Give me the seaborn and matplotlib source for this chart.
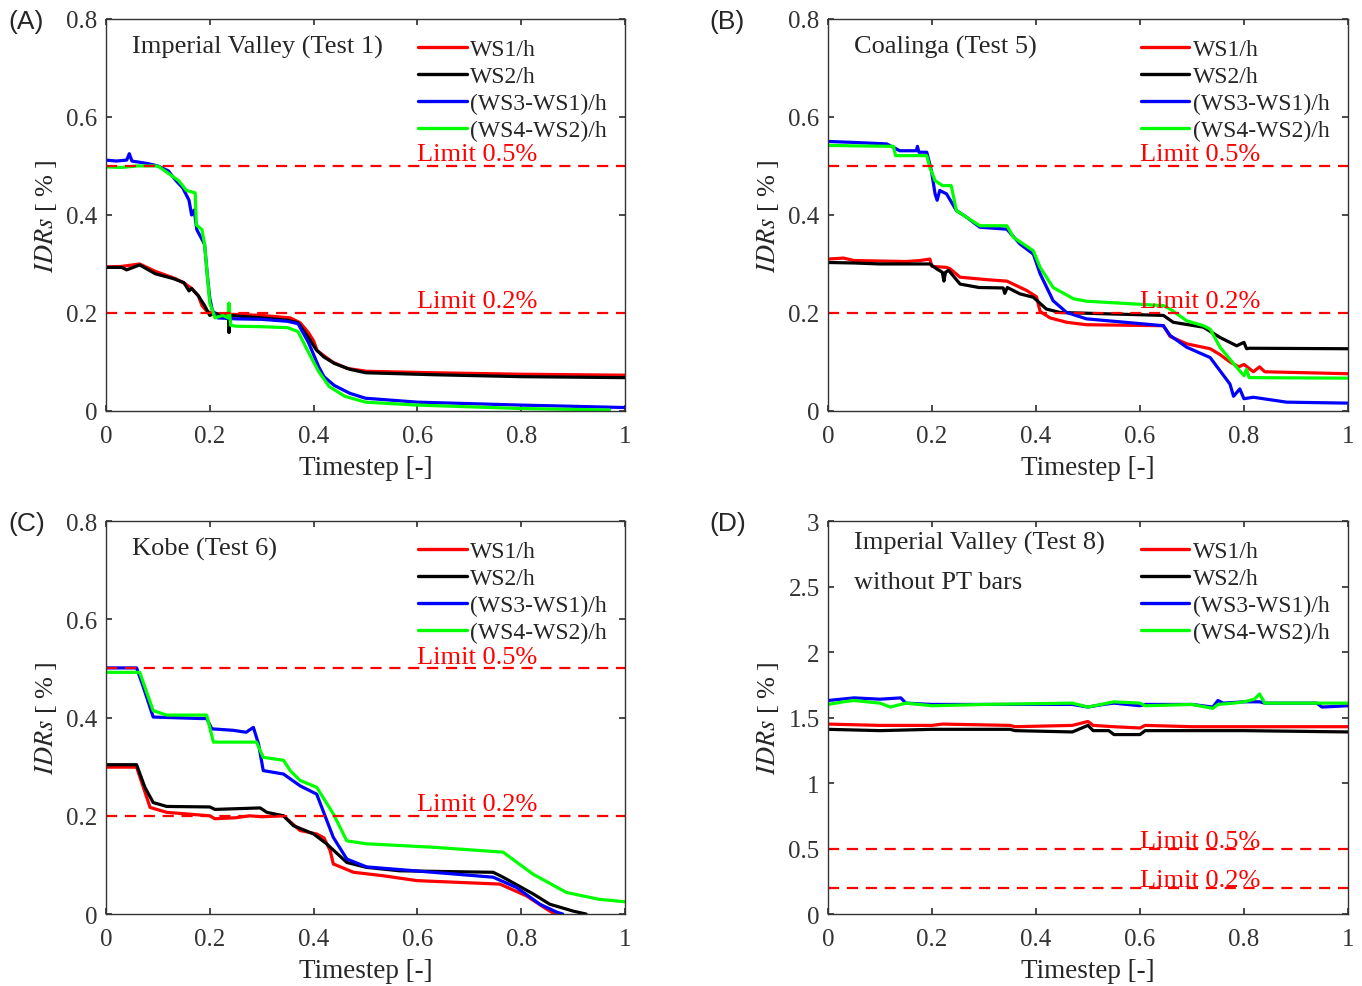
import numpy as np
import pandas as pd
import matplotlib
matplotlib.use("Agg")
import matplotlib.pyplot as plt
from matplotlib.ticker import FuncFormatter, MultipleLocator
import seaborn as sns

# ---------------- Datos ----------------
SERIES = ["WS1/h", "WS2/h", "(WS3-WS1)/h", "(WS4-WS2)/h"]
COLORES = ["#ff0000", "#000000", "#0000ff", "#00ff00"]
LIMITES = [0.5, 0.2]
LIMITES_TXT = ["Limit 0.5%", "Limit 0.2%"]

# (A) Imperial Valley (Test 1)
A_T_WS1 = [0, 0.03, 0.065, 0.095, 0.134, 0.152, 0.165, 0.178, 0.185, 0.195, 0.21, 0.25, 0.3, 0.355, 0.374, 0.39, 0.4,
           0.407, 0.426, 0.438, 0.464, 0.502, 0.63, 0.8, 1.0]
A_WS1 = [0.294, 0.295, 0.30, 0.285, 0.27, 0.26, 0.25, 0.235, 0.215, 0.203, 0.198, 0.197, 0.195, 0.19, 0.18, 0.16, 0.143,
         0.123, 0.108, 0.099, 0.087, 0.081, 0.078, 0.075, 0.073]
A_T_WS2 = [0, 0.03, 0.04, 0.065, 0.095, 0.13, 0.15, 0.16, 0.165, 0.178, 0.19, 0.2, 0.21, 0.236, 0.237, 0.24, 0.25, 0.3,
           0.35, 0.37, 0.39, 0.405, 0.42, 0.44, 0.47, 0.5, 0.63, 0.8, 1.0]
A_WS2 = [0.293, 0.293, 0.288, 0.298, 0.28, 0.27, 0.262, 0.245, 0.25, 0.235, 0.215, 0.195, 0.2, 0.19, 0.16, 0.195, 0.194,
         0.19, 0.185, 0.18, 0.15, 0.125, 0.11, 0.097, 0.085, 0.078, 0.074, 0.070, 0.068]
A_T_WS31 = [0, 0.02, 0.04, 0.045, 0.05, 0.08, 0.1, 0.12, 0.135, 0.148, 0.16, 0.165, 0.17, 0.175, 0.185, 0.19, 0.195, 0.2,
            0.205, 0.215, 0.25, 0.3, 0.35, 0.37, 0.39, 0.41, 0.42, 0.44, 0.47, 0.5, 0.6, 0.8, 1.0]
A_WS31 = [0.512, 0.51, 0.512, 0.525, 0.51, 0.505, 0.50, 0.49, 0.47, 0.455, 0.43, 0.40, 0.41, 0.37, 0.35, 0.34, 0.28,
          0.23, 0.205, 0.19, 0.188, 0.187, 0.183, 0.178, 0.14, 0.09, 0.07, 0.052, 0.036, 0.026, 0.018, 0.012, 0.007]
A_T_WS42 = [0, 0.03, 0.06, 0.1, 0.12, 0.14, 0.155, 0.172, 0.174, 0.185, 0.19, 0.2, 0.21, 0.225, 0.235, 0.237, 0.24, 0.25,
            0.3, 0.35, 0.37, 0.39, 0.41, 0.43, 0.46, 0.5, 0.6, 0.8, 0.97]
A_WS42 = [0.498, 0.497, 0.50, 0.50, 0.485, 0.47, 0.45, 0.445, 0.38, 0.37, 0.34, 0.22, 0.19, 0.195, 0.19, 0.22, 0.175,
          0.173, 0.172, 0.17, 0.162, 0.12, 0.08, 0.05, 0.03, 0.018, 0.012, 0.005, 0.002]

# (B) Coalinga (Test 5)
B_T_WS1 = [0, 0.03, 0.05, 0.1, 0.15, 0.177, 0.196, 0.2, 0.228, 0.235, 0.254, 0.305, 0.344, 0.382, 0.401, 0.408, 0.427,
           0.459, 0.497, 0.645, 0.658, 0.69, 0.735, 0.754, 0.773, 0.79, 0.8, 0.818, 0.83, 0.84, 1.0]
B_WS1 = [0.31, 0.312, 0.307, 0.306, 0.305, 0.307, 0.31, 0.295, 0.293, 0.29, 0.273, 0.268, 0.265, 0.246, 0.233, 0.203,
         0.19, 0.181, 0.176, 0.174, 0.152, 0.137, 0.127, 0.115, 0.10, 0.09, 0.095, 0.08, 0.09, 0.08, 0.076]
B_T_WS2 = [0, 0.05, 0.1, 0.15, 0.196, 0.209, 0.22, 0.223, 0.226, 0.232, 0.254, 0.29, 0.337, 0.34, 0.345, 0.369, 0.395,
           0.42, 0.446, 0.645, 0.664, 0.722, 0.754, 0.786, 0.8, 0.805, 0.81, 1.0]
B_WS2 = [0.303, 0.302, 0.30, 0.30, 0.30, 0.29, 0.283, 0.265, 0.283, 0.287, 0.259, 0.252, 0.251, 0.24, 0.252, 0.239,
         0.232, 0.208, 0.201, 0.195, 0.181, 0.171, 0.15, 0.133, 0.14, 0.127, 0.128, 0.127]
B_T_WS31 = [0, 0.05, 0.113, 0.138, 0.17, 0.172, 0.175, 0.19, 0.199, 0.206, 0.21, 0.215, 0.228, 0.247, 0.267, 0.292,
            0.344, 0.369, 0.395, 0.408, 0.433, 0.459, 0.497, 0.645, 0.658, 0.69, 0.735, 0.754, 0.773, 0.78, 0.792, 0.8,
            0.818, 0.882, 1.0]
B_WS31 = [0.55, 0.548, 0.545, 0.531, 0.531, 0.54, 0.528, 0.528, 0.49, 0.443, 0.43, 0.45, 0.443, 0.409, 0.395, 0.375,
          0.371, 0.341, 0.320, 0.280, 0.225, 0.201, 0.188, 0.174, 0.154, 0.130, 0.109, 0.082, 0.055, 0.03, 0.045, 0.025,
          0.028, 0.018, 0.016]
B_T_WS42 = [0, 0.05, 0.126, 0.13, 0.19, 0.196, 0.206, 0.22, 0.237, 0.247, 0.267, 0.292, 0.344, 0.357, 0.395, 0.408,
            0.433, 0.472, 0.497, 0.645, 0.658, 0.69, 0.722, 0.735, 0.754, 0.786, 0.8, 0.805, 0.81, 1.0]
B_WS42 = [0.542, 0.541, 0.54, 0.521, 0.521, 0.497, 0.47, 0.46, 0.46, 0.409, 0.395, 0.378, 0.378, 0.354, 0.327, 0.293,
          0.252, 0.229, 0.224, 0.215, 0.208, 0.184, 0.174, 0.167, 0.13, 0.089, 0.072, 0.085, 0.068, 0.067]

# (C) Kobe (Test 6)
C_T_WS1 = [0, 0.059, 0.072, 0.085, 0.117, 0.2, 0.21, 0.25, 0.277, 0.3, 0.342, 0.374, 0.406, 0.42, 0.432, 0.438, 0.477,
           0.534, 0.599, 0.759, 0.81, 0.849, 0.865]
C_WS1 = [0.299, 0.299, 0.258, 0.217, 0.207, 0.200, 0.194, 0.196, 0.20, 0.198, 0.2, 0.170, 0.163, 0.155, 0.129, 0.102,
         0.085, 0.078, 0.068, 0.061, 0.037, 0.01, 0.0]
C_T_WS2 = [0, 0.059, 0.075, 0.091, 0.117, 0.2, 0.21, 0.297, 0.31, 0.342, 0.361, 0.4, 0.425, 0.464, 0.502, 0.566, 0.746,
           0.765, 0.823, 0.855, 0.9, 0.925]
C_WS2 = [0.304, 0.304, 0.258, 0.227, 0.219, 0.218, 0.213, 0.216, 0.207, 0.2, 0.18, 0.163, 0.143, 0.105, 0.095, 0.088,
         0.085, 0.075, 0.041, 0.02, 0.006, 0.0]
C_T_WS31 = [0, 0.059, 0.072, 0.091, 0.181, 0.194, 0.204, 0.245, 0.27, 0.284, 0.294, 0.303, 0.342, 0.374, 0.406, 0.438,
            0.464, 0.502, 0.63, 0.746, 0.791, 0.836, 0.868, 0.88]
C_WS31 = [0.501, 0.501, 0.462, 0.401, 0.398, 0.398, 0.377, 0.374, 0.37, 0.38, 0.346, 0.292, 0.285, 0.261, 0.244, 0.156,
          0.112, 0.096, 0.085, 0.075, 0.054, 0.020, 0.004, 0.0]
C_T_WS42 = [0, 0.065, 0.091, 0.117, 0.194, 0.207, 0.29, 0.303, 0.342, 0.355, 0.374, 0.406, 0.438, 0.464, 0.502, 0.63,
            0.765, 0.823, 0.887, 0.95, 1.0]
C_WS42 = [0.492, 0.492, 0.414, 0.405, 0.405, 0.35, 0.35, 0.319, 0.313, 0.292, 0.272, 0.258, 0.204, 0.149, 0.143, 0.136,
          0.126, 0.081, 0.044, 0.03, 0.025]

# (D) Imperial Valley (Test 8) without PT bars
D_T_WS1 = [0, 0.1, 0.2, 0.22, 0.35, 0.36, 0.47, 0.5, 0.51, 0.55, 0.6, 0.61, 0.7, 0.8, 0.9, 1.0]
D_WS1 = [1.45, 1.44, 1.44, 1.45, 1.44, 1.43, 1.44, 1.47, 1.44, 1.43, 1.42, 1.44, 1.43, 1.43, 1.43, 1.43]
D_T_WS2 = [0, 0.1, 0.2, 0.35, 0.36, 0.47, 0.5, 0.51, 0.54, 0.55, 0.6, 0.61, 0.7, 0.8, 1.0]
D_WS2 = [1.41, 1.40, 1.41, 1.41, 1.40, 1.39, 1.44, 1.40, 1.40, 1.37, 1.37, 1.40, 1.40, 1.40, 1.39]
D_T_WS31 = [0, 0.05, 0.1, 0.14, 0.15, 0.2, 0.3, 0.47, 0.5, 0.53, 0.55, 0.6, 0.61, 0.7, 0.74, 0.75, 0.76, 0.8, 0.83,
            0.84, 0.9, 0.94, 0.95, 1.0]
D_WS31 = [1.63, 1.65, 1.64, 1.65, 1.61, 1.60, 1.60, 1.60, 1.58, 1.60, 1.61, 1.59, 1.60, 1.60, 1.58, 1.63, 1.61, 1.62,
          1.62, 1.61, 1.61, 1.61, 1.58, 1.59]
D_T_WS42 = [0, 0.03, 0.05, 0.1, 0.12, 0.15, 0.2, 0.3, 0.47, 0.5, 0.55, 0.6, 0.61, 0.7, 0.74, 0.75, 0.78, 0.8, 0.82, 0.83,
            0.84, 0.9, 1.0]
D_WS42 = [1.60, 1.62, 1.63, 1.61, 1.58, 1.61, 1.59, 1.60, 1.61, 1.58, 1.62, 1.61, 1.59, 1.60, 1.57, 1.60, 1.61, 1.62,
          1.64, 1.68, 1.61, 1.61, 1.61]

# ---------------- Estilo ----------------
sns.set_theme(style="ticks")
plt.rcParams.update({
    "font.family": ["Liberation Serif", "DejaVu Serif"],
    "mathtext.fontset": "stix",
    "xtick.direction": "in",
    "ytick.direction": "in",
    "xtick.top": True,
    "ytick.right": True,
    "xtick.major.size": 4,
    "ytick.major.size": 4,
    "axes.edgecolor": "#333333",
    "axes.linewidth": 1.0,
    "xtick.color": "#333333",
    "ytick.color": "#333333",
})

fig = plt.figure(figsize=(13.62, 9.87), dpi=100)
posiciones = [
    [0.0778, 0.5826, 0.3811, 0.3972],
    [0.6079, 0.5826, 0.3818, 0.3972],
    [0.0778, 0.0729, 0.3811, 0.3982],
    [0.6079, 0.0729, 0.3818, 0.3982],
]
pos_etiquetas = [(0.006, 0.978), (0.521, 0.978), (0.006, 0.469), (0.521, 0.469)]
paneles = [
    ("(A)", ["Imperial Valley (Test 1)"], 0.8, 0.2,
     [(A_T_WS1, A_WS1), (A_T_WS2, A_WS2), (A_T_WS31, A_WS31), (A_T_WS42, A_WS42)]),
    ("(B)", ["Coalinga (Test 5)"], 0.8, 0.2,
     [(B_T_WS1, B_WS1), (B_T_WS2, B_WS2), (B_T_WS31, B_WS31), (B_T_WS42, B_WS42)]),
    ("(C)", ["Kobe (Test 6)"], 0.8, 0.2,
     [(C_T_WS1, C_WS1), (C_T_WS2, C_WS2), (C_T_WS31, C_WS31), (C_T_WS42, C_WS42)]),
    ("(D)", ["Imperial Valley (Test 8)", "without PT bars"], 3.0, 0.5,
     [(D_T_WS1, D_WS1), (D_T_WS2, D_WS2), (D_T_WS31, D_WS31), (D_T_WS42, D_WS42)]),
]

fmt = FuncFormatter(lambda v, p: f"{v:g}")

for pos, pe, (etiqueta, titulo, ymax, paso, datos) in zip(posiciones, pos_etiquetas, paneles):
    ax = fig.add_axes(pos)
    partes = []
    for nombre, (t, v) in zip(SERIES, datos):
        partes.append(pd.DataFrame({"t": t, "v": v, "serie": nombre}))
    df = pd.concat(partes, ignore_index=True)

    sns.lineplot(data=df, x="t", y="v", hue="serie", hue_order=SERIES,
                 palette=COLORES, estimator=None, sort=False,
                 linewidth=2.3, ax=ax, legend=False)

    # líneas de límite
    for lim, txt in zip(LIMITES, LIMITES_TXT):
        ax.axhline(lim, color="#ff0000", linestyle=(0, (5, 3.5)), linewidth=1.6)
        ax.text(0.6, lim + 0.012, txt, color="#ff0000", fontsize=19, va="baseline", ha="left")

    ax.set_xlim(0, 1)
    ax.set_ylim(0, ymax)
    ax.xaxis.set_major_locator(MultipleLocator(0.2))
    ax.yaxis.set_major_locator(MultipleLocator(paso))
    ax.xaxis.set_major_formatter(fmt)
    ax.yaxis.set_major_formatter(fmt)
    ax.tick_params(axis="x", labelsize=18, pad=10)
    ax.tick_params(axis="y", labelsize=18, pad=6)
    ax.set_xlabel("Timestep [-]", fontsize=19.5, labelpad=6)
    ax.set_ylabel(r"$\mathit{IDRs}$ [ % ]", fontsize=19, labelpad=5)

    # título dentro del eje
    y0 = 0.915 if len(titulo) == 1 else 0.929
    for i, linea in enumerate(titulo):
        ax.text(0.051, y0 - i * 0.099, linea, transform=ax.transAxes, fontsize=19, va="baseline", ha="left")

    handles = [plt.Line2D([], [], color=c, linewidth=2.4) for c in COLORES]
    ax.legend(handles, SERIES, loc="upper right", bbox_to_anchor=(0.965, 0.95),
              frameon=False, fontsize=17, handlelength=2.05, handletextpad=0.15,
              labelspacing=0.23, borderpad=0, borderaxespad=0)

    fig.text(pe[0], pe[1], etiqueta, fontsize=19, family="Liberation Sans", va="center", ha="left")

fig.savefig("out.png", dpi=100)
